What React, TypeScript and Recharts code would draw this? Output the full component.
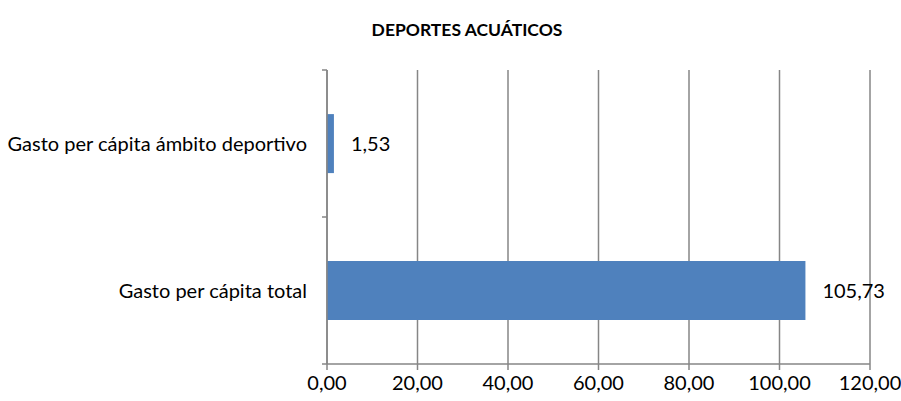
import React from 'react';
import { BarChart, Bar, XAxis, YAxis, CartesianGrid, LabelList } from 'recharts';

const categories = ['Gasto per cápita ámbito deportivo', 'Gasto per cápita total'];
const values = [1.53, 105.73];
const xTicks = [0, 20, 40, 60, 80, 100, 120];

const data = categories.map((name, i) => ({ name, value: values[i] }));

const FONT = 'Lato, "Open Sans", sans-serif';
const GRID = '#868686';
const FS = 20;

const fmt = (v: number) => v.toFixed(2).replace('.', ',');

// category label plus tick marks on the band edges (Excel style)
const CategoryTick: React.FC<any> = ({ x, y, payload, height, visibleTicksCount, index }) => {
    const half = height / visibleTicksCount / 2;
    const axisX = x + 8;
    return (
        <g>
            <line x1={axisX - 5} x2={axisX} y1={y - half} y2={y - half} stroke={GRID} strokeWidth={1.5} />
            {index === visibleTicksCount - 1 && (
                <line x1={axisX - 5} x2={axisX} y1={y + half} y2={y + half} stroke={GRID} strokeWidth={1.5} />
            )}
            <text x={axisX - 20} y={y} dy={7} textAnchor="end" fill="#000" fontSize={FS} fontFamily={FONT}>
                {payload.value}
            </text>
        </g>
    );
};

const App: React.FC = () => {
    return (
        <div style={{ position: 'absolute', left: 0, top: 0, width: 901, height: 401, background: '#fff' }}>
            <div
                style={{
                    position: 'absolute',
                    top: 19,
                    left: 0,
                    width: 934,
                    textAlign: 'center',
                    fontFamily: FONT,
                    fontWeight: 'bold',
                    fontSize: 17.5,
                    color: '#000',
                }}
            >
                DEPORTES ACUÁTICOS
            </div>
            <BarChart
                width={901}
                height={401}
                data={data}
                layout="vertical"
                margin={{ top: 70, right: 31, left: 0, bottom: 0 }}
                barCategoryGap="30%"
            >
                <CartesianGrid horizontal={false} vertical={true} stroke={GRID} strokeWidth={1.5} />
                <XAxis
                    type="number"
                    domain={[0, 120]}
                    ticks={xTicks}
                    tickFormatter={fmt}
                    stroke={GRID}
                    strokeWidth={1.5}
                    tickSize={6}
                    tickMargin={6}
                    height={37}
                    interval={0}
                    tick={{ fill: '#000', fontSize: FS, fontFamily: FONT }}
                />
                <YAxis
                    type="category"
                    dataKey="name"
                    width={327}
                    stroke={GRID}
                    strokeWidth={1.5}
                    tickLine={false}
                    tick={<CategoryTick />}
                    interval={0}
                />
                <Bar dataKey="value" fill="#4F81BD" isAnimationActive={false}>
                    <LabelList
                        dataKey="value"
                        position="right"
                        offset={17}
                        formatter={(v: any) => fmt(Number(v))}
                        fill="#000"
                        fontSize={FS}
                        fontFamily={FONT}
                    />
                </Bar>
            </BarChart>
        </div>
    );
};

export default App;
